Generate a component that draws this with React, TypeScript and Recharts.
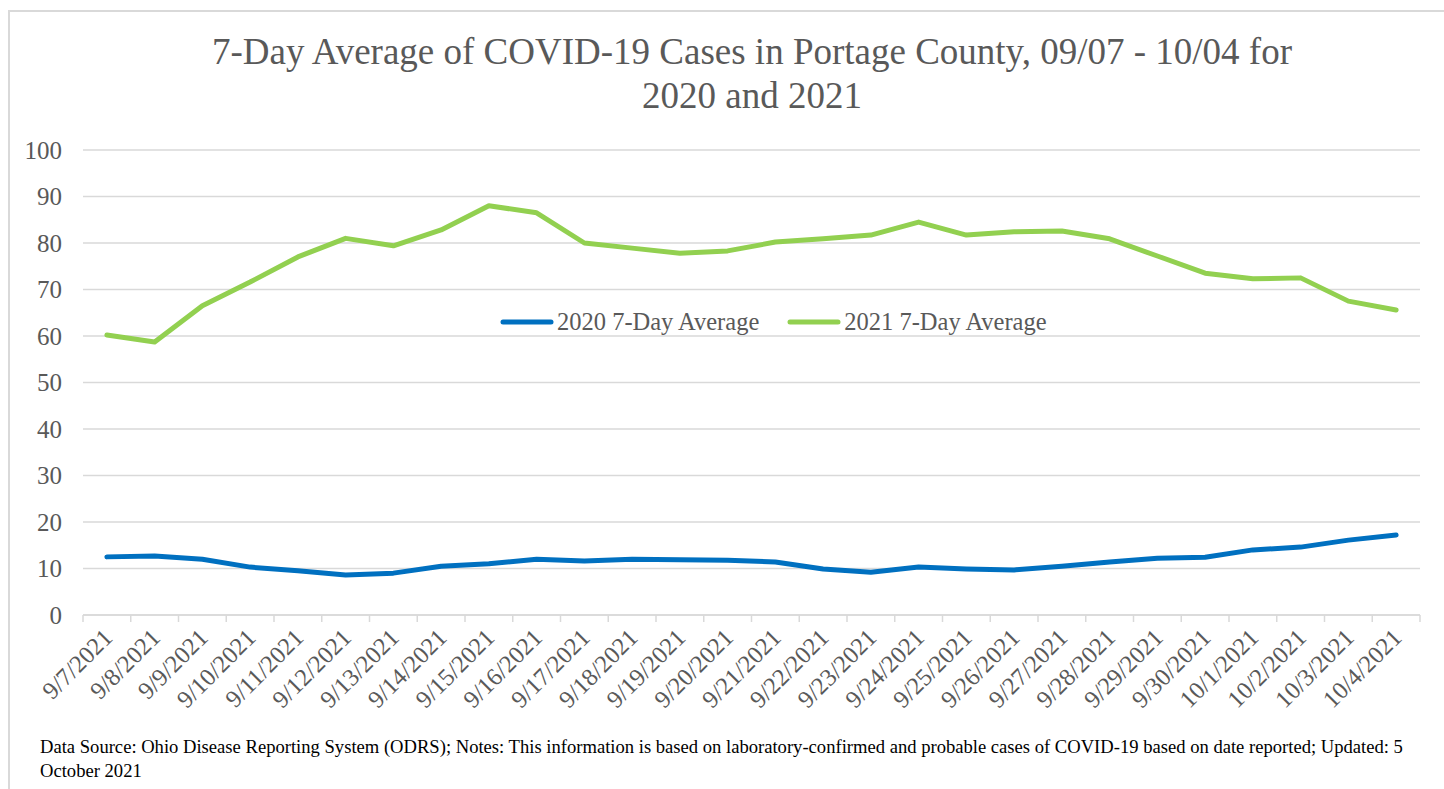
import React from 'react';
import { LineChart, Line, XAxis, YAxis, CartesianGrid, Legend } from 'recharts';

const dates = [
  '9/7/2021', '9/8/2021', '9/9/2021', '9/10/2021', '9/11/2021', '9/12/2021', '9/13/2021',
  '9/14/2021', '9/15/2021', '9/16/2021', '9/17/2021', '9/18/2021', '9/19/2021', '9/20/2021',
  '9/21/2021', '9/22/2021', '9/23/2021', '9/24/2021', '9/25/2021', '9/26/2021', '9/27/2021',
  '9/28/2021', '9/29/2021', '9/30/2021', '10/1/2021', '10/2/2021', '10/3/2021', '10/4/2021',
];

const avg2020 = [
  12.5, 12.7, 12.0, 10.3, 9.5, 8.6, 9.0, 10.5, 11.0, 12.0, 11.6, 12.0, 11.9, 11.8,
  11.4, 9.9, 9.2, 10.3, 9.9, 9.7, 10.5, 11.4, 12.2, 12.4, 14.0, 14.6, 16.1, 17.2,
];

const avg2021 = [
  60.2, 58.7, 66.5, 71.6, 77.0, 81.0, 79.4, 82.8, 88.0, 86.5, 80.0, 78.9, 77.8, 78.3,
  80.2, 80.9, 81.7, 84.5, 81.7, 82.4, 82.6, 80.9, 77.2, 73.5, 72.3, 72.5, 67.5, 65.6,
];

const yTicks = [0, 10, 20, 30, 40, 50, 60, 70, 80, 90, 100];

const seriesNames = ['2020 7-Day Average', '2021 7-Day Average'];
const seriesColors = ['#0070C0', '#92D050'];

const titleLines = ['7-Day Average of COVID-19 Cases in Portage County, 09/07 - 10/04 for', '2020 and 2021'];
const footerLines = [
  'Data Source: Ohio Disease Reporting System (ODRS); Notes: This information is based on laboratory-confirmed and probable cases of COVID-19 based on date reported; Updated: 5',
  'October 2021',
];

const data = dates.map((d, i) => ({ date: d, a2020: avg2020[i], a2021: avg2021[i] }));

const FONT = '"Liberation Serif", "Times New Roman", serif';
const W = 1444;
const H = 789;
const M = { top: 150, right: 24, bottom: 74, left: 23 };
const YW = 60;
const PLOT_W = W - M.left - M.right - YW;
const STEP = PLOT_W / dates.length;
const TICK_MARGIN = 14;

const XTick = (props: any) => {
  const { x, y, payload, index } = props;
  const axisY = y - TICK_MARGIN;
  const tx = x + 7;
  const ty = y + 10;
  return (
    <g>
      <line x1={x - STEP / 2} y1={axisY} x2={x - STEP / 2} y2={axisY + 7} stroke="#d9d9d9" strokeWidth={1.5} />
      {index === dates.length - 1 && (
        <line x1={x + STEP / 2} y1={axisY} x2={x + STEP / 2} y2={axisY + 7} stroke="#d9d9d9" strokeWidth={1.5} />
      )}
      <text
        x={tx}
        y={ty}
        transform={`rotate(-45, ${tx}, ${ty})`}
        textAnchor="end"
        fill="#595959"
        fontSize={24.5}
        fontFamily={FONT}
      >
        {payload.value}
      </text>
    </g>
  );
};

const LegendContent = (props: any) => {
  const { payload } = props;
  return (
    <div style={{ display: 'flex', alignItems: 'center', fontFamily: FONT, fontSize: 24.5, color: '#595959' }}>
      {(payload || []).map((p: any, i: number) => (
        <div key={i} style={{ display: 'flex', alignItems: 'center', marginRight: 28 }}>
          <svg width={54} height={10} style={{ display: 'block' }}>
            <line x1={3} y1={5} x2={51} y2={5} stroke={p.color} strokeWidth={5} strokeLinecap="round" />
          </svg>
          <span style={{ marginLeft: 3, whiteSpace: 'nowrap' }}>{p.value}</span>
        </div>
      ))}
    </div>
  );
};

export default function App() {
  return (
    <div style={{ position: 'fixed', left: 0, top: 0, width: W, height: H, overflow: 'hidden', background: '#fff' }}>
      <div
        style={{
          position: 'absolute',
          left: 8,
          top: 10,
          width: 1600,
          height: 900,
          border: '2px solid #d9d9d9',
          boxSizing: 'border-box',
        }}
      />
      <div
        style={{
          position: 'absolute',
          left: 0,
          top: 30,
          width: 1504,
          textAlign: 'center',
          fontFamily: FONT,
          fontSize: 37,
          lineHeight: '44px',
          color: '#595959',
        }}
      >
        {titleLines.map((t, i) => (
          <div key={i}>{t}</div>
        ))}
      </div>
      <div style={{ position: 'absolute', left: 0, top: 0 }}>
        <LineChart width={W} height={H} data={data} margin={M}>
          <CartesianGrid horizontal vertical={false} stroke="#d9d9d9" strokeWidth={1.5} />
          <XAxis
            dataKey="date"
            interval={0}
            padding={{ left: STEP / 2, right: STEP / 2 }}
            axisLine={{ stroke: '#d9d9d9', strokeWidth: 1.5 }}
            tickLine={false}
            tickSize={0}
            tickMargin={TICK_MARGIN}
            height={100}
            tick={<XTick />}
          />
          <YAxis
            width={YW}
            domain={[0, 100]}
            ticks={yTicks}
            interval={0}
            axisLine={false}
            tickLine={false}
            tickSize={0}
            tickMargin={21}
            tick={{ fill: '#595959', fontSize: 25, fontFamily: FONT }}
          />
          <Legend
            layout="horizontal"
            verticalAlign="middle"
            align="center"
            content={<LegendContent />}
            wrapperStyle={{ position: 'absolute', top: 308, left: 500, width: 700 }}
          />
          <Line
            type="linear"
            dataKey="a2020"
            name={seriesNames[0]}
            stroke={seriesColors[0]}
            strokeWidth={5}
            dot={false}
            strokeLinecap="round"
            strokeLinejoin="round"
            isAnimationActive={false}
          />
          <Line
            type="linear"
            dataKey="a2021"
            name={seriesNames[1]}
            stroke={seriesColors[1]}
            strokeWidth={5}
            dot={false}
            strokeLinecap="round"
            strokeLinejoin="round"
            isAnimationActive={false}
          />
        </LineChart>
      </div>
      <div
        style={{
          position: 'absolute',
          left: 40,
          top: 735,
          fontFamily: FONT,
          fontSize: 18.6,
          lineHeight: '24px',
          color: '#000',
          whiteSpace: 'nowrap',
        }}
      >
        {footerLines.map((t, i) => (
          <div key={i}>{t}</div>
        ))}
      </div>
    </div>
  );
}
